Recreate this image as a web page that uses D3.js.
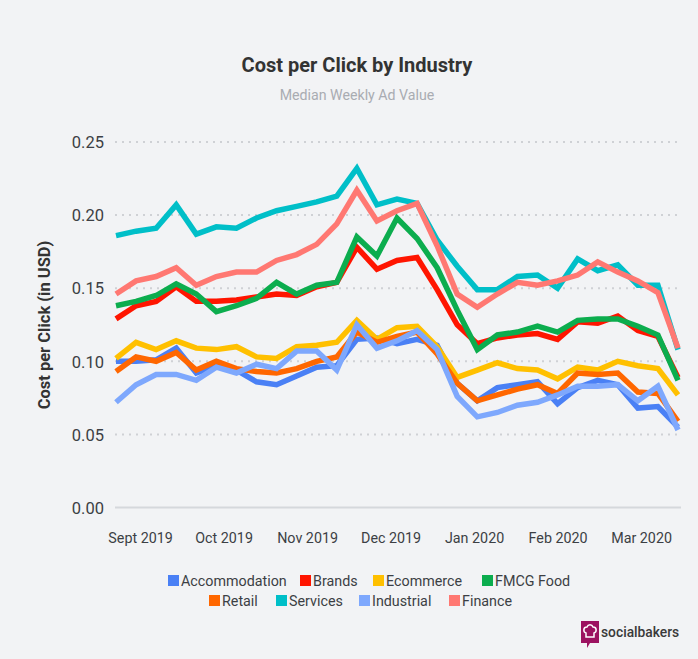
<!DOCTYPE html>
<html>
<head>
<meta charset="utf-8">
<script src="https://cdn.jsdelivr.net/npm/d3@7"></script>
<style>
  html, body { margin: 0; padding: 0; background: #f2f3f5; }
  svg { display: block; font-family: Roboto, "Noto Sans", sans-serif; }
</style>
</head>
<body>
<svg id="chart" width="698" height="659"></svg>
<script>
// ---- data (weekly medians, Sept 2019 – Mar 2020) ----
const weeks = d3.range(29); // week index 0..28
const seriesNames = ["Accommodation", "Brands", "Ecommerce", "FMCG Food", "Retail", "Services", "Industrial", "Finance"];
const seriesColors = ["#4a80f5", "#ff1500", "#ffc000", "#0cad4e", "#ff6700", "#00bfc8", "#7ea8fd", "#ff7872"];

const accommodation = [0.100,0.100,0.101,0.109,0.092,0.097,0.094,0.086,0.084,0.090,0.096,0.097,0.115,0.116,0.112,0.115,0.111,0.085,0.073,0.082,0.084,0.086,0.071,0.082,0.087,0.084,0.068,0.069,0.055];
const brands        = [0.129,0.138,0.141,0.151,0.141,0.141,0.142,0.144,0.146,0.145,0.151,0.154,0.178,0.163,0.169,0.171,0.149,0.125,0.112,0.116,0.118,0.119,0.115,0.127,0.126,0.131,0.121,0.117,0.089];
const ecommerce     = [0.102,0.113,0.108,0.114,0.109,0.108,0.110,0.103,0.102,0.110,0.111,0.113,0.128,0.115,0.123,0.124,0.110,0.089,0.094,0.099,0.095,0.094,0.088,0.096,0.094,0.100,0.097,0.095,0.077];
const fmcgFood      = [0.138,0.141,0.145,0.153,0.146,0.134,0.138,0.143,0.154,0.146,0.152,0.154,0.185,0.172,0.198,0.184,0.164,0.135,0.108,0.118,0.120,0.124,0.120,0.128,0.129,0.129,0.124,0.118,0.087];
const retail        = [0.093,0.103,0.100,0.106,0.094,0.100,0.095,0.093,0.092,0.095,0.100,0.103,0.120,0.113,0.117,0.120,0.105,0.085,0.073,0.077,0.081,0.084,0.078,0.092,0.091,0.092,0.079,0.078,0.059];
const services      = [0.186,0.189,0.191,0.207,0.187,0.192,0.191,0.198,0.203,0.206,0.209,0.213,0.232,0.207,0.211,0.208,0.183,0.165,0.149,0.149,0.158,0.159,0.150,0.170,0.162,0.166,0.152,0.152,0.108];
const industrial    = [0.072,0.084,0.091,0.091,0.087,0.096,0.092,0.098,0.095,0.107,0.107,0.094,0.125,0.109,0.114,0.121,0.108,0.076,0.062,0.065,0.070,0.072,0.077,0.083,0.083,0.084,0.073,0.083,0.053];
const finance       = [0.146,0.155,0.158,0.164,0.152,0.158,0.161,0.161,0.169,0.173,0.180,0.194,0.217,0.196,0.203,0.208,0.179,0.146,0.137,0.146,0.154,0.152,0.155,0.159,0.168,0.161,0.155,0.147,0.109];
const seriesValues = [accommodation, brands, ecommerce, fmcgFood, retail, services, industrial, finance];

const yTicks = [0, 0.05, 0.10, 0.15, 0.20, 0.25];
const xTickWeeks  = [1.2, 5.36, 9.52, 13.68, 17.84, 22.0, 26.16];
const xTickLabels = ["Sept 2019", "Oct 2019", "Nov 2019", "Dec 2019", "Jan 2020", "Feb 2020", "Mar 2020"];

// ---- drawing ----
const svg = d3.select("#chart");
const x = d3.scaleLinear().domain([0, 28]).range([116, 678]);
const y = d3.scaleLinear().domain([0, 0.25]).range([507.5, 142]);
const gridX0 = 115, gridX1 = 681;

svg.append("rect").attr("width", 698).attr("height", 659).attr("fill", "#f2f3f5");

// title
svg.append("text").attr("x", 357).attr("y", 72).attr("text-anchor", "middle")
  .attr("font-size", 20).attr("font-weight", 700).attr("fill", "#333").text("Cost per Click by Industry");
svg.append("text").attr("x", 357).attr("y", 100).attr("text-anchor", "middle")
  .attr("font-size", 14.2).attr("fill", "#a9acb2").text("Median Weekly Ad Value");

// y axis title
svg.append("text").attr("transform", "translate(50,325) rotate(-90)").attr("text-anchor", "middle")
  .attr("font-size", 16.5).attr("font-weight", 700).attr("fill", "#333").text("Cost per Click (in USD)");

// gridlines + y labels via axis
const yAxis = d3.axisLeft(y).tickValues(yTicks).tickFormat(d3.format(".2f")).tickSize(0);
const gy = svg.append("g").attr("transform", `translate(${gridX0 - 8},0)`).call(yAxis);
gy.select(".domain").remove();
gy.selectAll("text").attr("font-size", 16.5).attr("fill", "#3c3f44").attr("font-family", "Roboto, sans-serif").attr("dx", 0).attr("dy", "0.35em");

svg.append("g").selectAll("line").data(yTicks).join("line")
  .attr("x1", gridX0).attr("x2", gridX1)
  .attr("y1", d => y(d)).attr("y2", d => y(d))
  .attr("stroke", d => d === 0 ? "#d5d8dc" : "#cfd1d5")
  .attr("stroke-width", 2)
  .attr("stroke-dasharray", d => d === 0 ? null : "2,5");

// x axis labels
const xAxis = d3.axisBottom(x).tickValues(xTickWeeks).tickFormat((d, i) => xTickLabels[i]).tickSize(0);
const gx = svg.append("g").attr("transform", "translate(0,530)").call(xAxis);
gx.select(".domain").remove();
gx.selectAll("text").attr("font-size", 14.3).attr("fill", "#3c3f44").attr("font-family", "Roboto, sans-serif");

// lines
const line = d3.line().x((d, i) => x(weeks[i])).y(d => y(d));
svg.append("g").selectAll("path").data(seriesValues).join("path")
  .attr("d", line)
  .attr("fill", "none")
  .attr("stroke", (d, i) => seriesColors[i])
  .attr("stroke-width", 5.5)
  .attr("stroke-linejoin", "miter")
  .attr("stroke-miterlimit", 3);

// legend
const legendRows = [
  { y: 581, items: [[0, 168], [1, 300], [2, 373], [3, 482]] },
  { y: 601, items: [[4, 209], [5, 276], [6, 359], [7, 449]] }
];
const lg = svg.append("g");
legendRows.forEach(row => {
  row.items.forEach(([si, lx]) => {
    lg.append("rect").attr("x", lx).attr("y", row.y - 6).attr("width", 11).attr("height", 11)
      .attr("fill", seriesColors[si]);
    lg.append("text").attr("x", lx + 13).attr("y", row.y + 5)
      .attr("font-size", 14.3).attr("fill", "#3c3f44").text(seriesNames[si]);
  });
});

// socialbakers logo
const logo = svg.append("g").attr("transform", "translate(581,621)");
logo.append("path").attr("d", "M0,0 H18 V22 H9 L6,27 V22 H0 Z").attr("fill", "#9c1260");
logo.append("path").attr("d", "M5,16 V12 C2,11 2,6 6,6 C7,3 11,3 12,6 C16,6 16,11 13,12 V16 Z")
  .attr("fill", "none").attr("stroke", "#fff").attr("stroke-width", 1.5);
svg.append("text").attr("x", 601).attr("y", 637).attr("font-size", 13.8).attr("font-weight", 500)
  .attr("fill", "#3a3a3a").text("socialbakers");
</script>
</body>
</html>
